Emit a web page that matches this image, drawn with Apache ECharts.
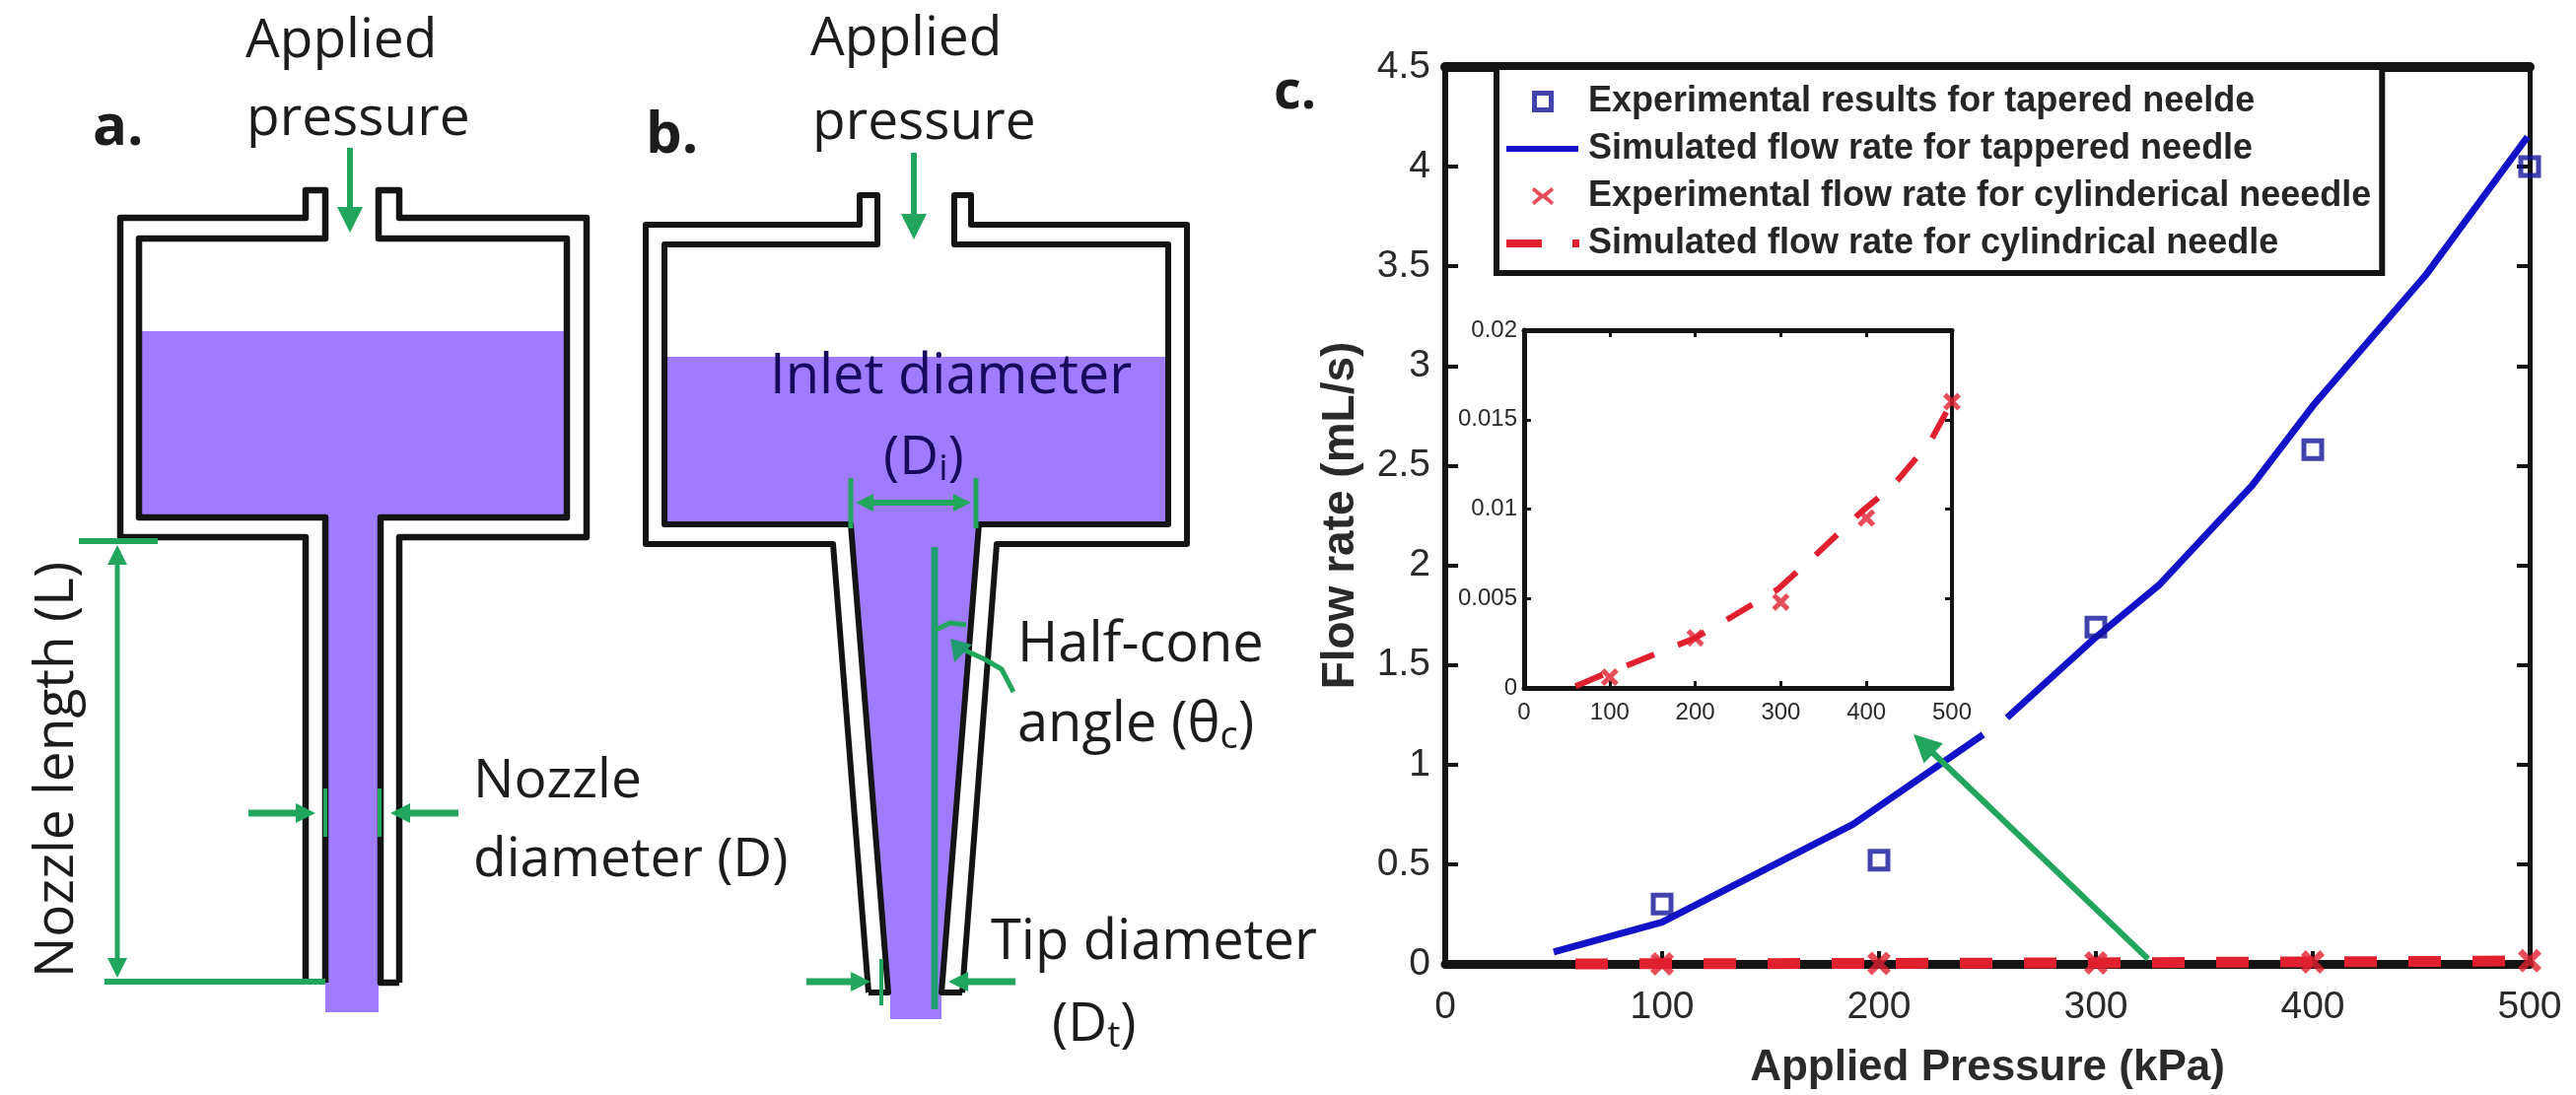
<!DOCTYPE html>
<html><head><meta charset="utf-8"><style>html,body{margin:0;background:#fff}#c{width:2613px;height:1111px}</style>
<script src="https://cdn.jsdelivr.net/npm/echarts@6/dist/echarts.min.js"></script></head>
<body><div id="c"></div>
<script>
// ---- data ----
const expPressure = [100, 200, 300, 400, 500];
const taperedExpRate = [0.30, 0.52, 1.69, 2.58, 4.00];
const taperedSimPressure = [50, 100, 188, 248, null, 259, 299, 329, 372, 400, 452, 499];
const taperedSimRate = [0.06, 0.21, 0.70, 1.15, null, 1.235, 1.63, 1.90, 2.40, 2.80, 3.455, 4.15];
const cylExpRate = [0.0006, 0.0028, 0.0048, 0.0095, 0.016];
const cylSimPressure = [60, 100, 128, 200, 240, 296, 340, 393, 431, 475, 500];
const cylSimRate = [0.0001, 0.0009, 0.0014, 0.0028, 0.0039, 0.0055, 0.0074, 0.0098, 0.0113, 0.0138, 0.016];
const nameExpTapered = 'Experimental results for tapered neelde';
const nameSimTapered = 'Simulated flow rate for tappered needle';
const nameExpCyl = 'Experimental flow rate for cylinderical neeedle';
const nameSimCyl = 'Simulated flow rate for cylindrical needle';

const BLUE = '#1212c8', NAVY = '#14149c', RED = '#e0202e', GREEN = '#22a55c', PURPLE = '#9f7cff', INK = '#141414';
const pairs = (xs, ys) => xs.map((x, i) => x === null ? [null, null] : [x, ys[i]]);
const FONT = '"Liberation Sans", Arial, sans-serif', DFONT = '"Open Sans", sans-serif';
const X_PATH = 'path://M4 0L10 6L16 0L20 4L14 10L20 16L16 20L10 14L4 20L0 16L6 10L0 4Z';
const BOX = 'M0 0L0 0ZM78 24L78 24Z';

// ---- illustration helpers (panels a and b are schematic, not data) ----
const poly = (points, color, w) => ({type:'polyline', silent:true, z:5, shape:{points}, style:{stroke:color, lineWidth:w, fill:null, lineJoin:'round'}});
const fillPoly = (points, color) => ({type:'polygon', silent:true, z:3, shape:{points}, style:{fill:color}});
function arrow(x1, y1, x2, y2, w, head, color) {
  const a = Math.atan2(y2 - y1, x2 - x1), c = Math.cos(a), s = Math.sin(a), hw = head * 0.5;
  return [poly([[x1, y1], [x2 - c * head * .8, y2 - s * head * .8]], color || GREEN, w),
    {type:'polygon', silent:true, z:6, shape:{points:[[x2, y2], [x2 - c * head - s * hw, y2 - s * head + c * hw], [x2 - c * head + s * hw, y2 - s * head - c * hw]]}, style:{fill:color || GREEN}}];
}
const txt = (text, x, y, size, opt) => Object.assign({type:'text', silent:true, z:8, x, y, style:{text, font:(opt && opt.weight || '400') + ' ' + size + 'px ' + DFONT, fill:(opt && opt.fill) || '#1c1c1c', textAlign:(opt && opt.align) || 'left', textVerticalAlign:'middle', rich:opt && opt.rich}}, opt && opt.rotation ? {rotation:opt.rotation} : {});

const subRich = (size, sub) => ({m:{font:'400 ' + size + 'px ' + DFONT, fill:sub.fill}, s:{font:'400 ' + Math.round(size * .68) + 'px ' + DFONT, fill:sub.fill, padding:[Math.round(size * .42), 0, 0, 0]}});

const illustration = [
  // panel a
  fillPoly([[141,336],[575,336],[575,525],[384,525],[384,1027],[330,1027],[330,525],[141,525]], PURPLE),
  poly([[310,997],[310,545],[122,545],[122,221],[310,221],[310,193],[330,193],[330,242],[141,242],[141,525],[330,525],[330,997]], INK, 6.5),
  poly([[405,997],[405,545],[595,545],[595,221],[405,221],[405,193],[384,193],[384,242],[575,242],[575,525],[386,525],[386,997],[405,997]], INK, 6.5),
  poly([[80,549],[160,549]], GREEN, 6),
  poly([[106,996],[330,996]], GREEN, 6),
  ...arrow(119, 700, 119, 553, 5, 20),
  ...arrow(119, 700, 119, 992, 5, 20),
  ...arrow(252, 825, 320, 825, 7, 20),
  ...arrow(465, 825, 396, 825, 7, 20),
  poly([[330,800],[330,849]], GREEN, 4), poly([[385,800],[385,849]], GREEN, 4),
  ...arrow(355, 150, 355, 236, 6, 26),
  txt('Applied', 249, 42, 55), txt('pressure', 250, 121, 55),
  txt('a.', 94, 130, 58, {weight:'700'}),
  txt('Nozzle length (L)', 58, 781, 55, {align:'center', rotation:Math.PI / 2}),
  txt('Nozzle', 480, 793, 55), txt('diameter (D)', 480, 873, 55),
  // panel b
  fillPoly([[674,362],[1185,362],[1185,532],[993,532],[955,1007],[955,1034],[903,1034],[903,1007],[863,532],[674,532]], PURPLE),
  poly([[881,1007],[845,552],[655,552],[655,228],[872,228],[872,198],[890,198],[890,248],[674,248],[674,532],[863,532],[901,1007],[881,1007]], INK, 6),
  poly([[976,1007],[1011,552],[1204,552],[1204,228],[985,228],[985,198],[968,198],[968,248],[1185,248],[1185,532],[993,532],[955,1007],[976,1007]], INK, 6),
  poly([[948,555],[948,1024]], '#1f9d6e', 7),
  poly([[863,485],[863,536]], GREEN, 5), poly([[990,485],[990,536]], GREEN, 5),
  ...arrow(925, 510, 868, 510, 6, 18), ...arrow(925, 510, 985, 510, 6, 18),
  poly([[949,639],[964,632],[980,634]], GREEN, 5),
  poly([[1028,702],[1016,679],[999,669],[975,658]], GREEN, 5),
  {type:'polygon', silent:true, z:6, shape:{points:[[964,648],[986,654],[968,672]]}, style:{fill:'#1f9d6e'}},
  ...arrow(818, 996, 883, 996, 7, 20), ...arrow(1030, 996, 962, 996, 7, 20),
  poly([[894,973],[894,1020]], GREEN, 4),
  ...arrow(927, 155, 927, 243, 6, 26),
  txt('Applied', 822, 40, 55), txt('pressure', 824, 125, 55),
  txt('b.', 655, 138, 58, {weight:'700'}),
  txt('Inlet diameter', 781, 383, 56, {fill:'#170a5c'}),
  txt('{m|(D}{s|i}{m|)}', 896, 465, 55, {rich:subRich(55, {fill:'#170a5c'})}),
  txt('Half-cone', 1032, 655, 56),
  txt('{m|angle (θ}{s|c}{m|)}', 1032, 736, 56, {rich:subRich(56, {fill:'#1c1c1c'})}),
  txt('Tip diameter', 1005, 957, 56),
  txt('{m|(D}{s|t}{m|)}', 1067, 1040, 55, {rich:subRich(55, {fill:'#1c1c1c'})}),
  txt('c.', 1292, 95, 54, {weight:'700'}),
  // arrow from the curve to the inset
  ...arrow(2179, 973, 1941, 745, 6, 28)
];

const plain = {show:false};
function frameAxes(type, grid, lo, hi, step, lineW, farW, tickLen, tickW, labelSize, labelMargin, labelPad, nameText, nameSize, nameGap) {
  const posA = type === 'x' ? 'bottom' : 'left', posB = type === 'x' ? 'top' : 'right';
  const base = {type:'value', gridIndex:grid, min:lo, max:hi, interval:step, splitLine:plain,
    axisTick:{show:true, inside:true, length:tickLen, lineStyle:{color:INK, width:tickW}}};
  const near = Object.assign({}, base, {position:posA,
    axisLine:{show:true, onZero:false, lineStyle:{color:INK, width:lineW}},
    axisLabel:{show:true, fontFamily:FONT, fontSize:labelSize, color:'#2a2a2a', margin:labelMargin, padding:labelPad, hideOverlap:false, showMinLabel:true, showMaxLabel:true}});
  if (nameText) Object.assign(near, {name:nameText, nameLocation:'middle', nameGap, nameTextStyle:{fontFamily:FONT, fontSize:nameSize, fontWeight:'bold', color:'#2a2a2a'}});
  const far = Object.assign({}, base, {position:posB, axisLabel:plain,
    axisLine:{show:true, onZero:false, lineStyle:{color:INK, width:farW}}});
  return [near, far];
}

const option = {
  animation:false, backgroundColor:'#fff',
  grid:[
    {left:1466, top:68, width:1100, height:912},
    {left:1546, top:335, width:434, height:363, z:3}
  ],
  xAxis:[
    ...frameAxes('x', 0, 0, 500, 100, 9, 10, 13, 4, 39, 25, 0, 'Applied Pressure (kPa)', 44, 84),
    ...frameAxes('x', 1, 0, 500, 100, 5, 5, 7, 3, 24, 13, 0)
  ],
  yAxis:[
    ...frameAxes('y', 0, 0, 4.5, 0.5, 6, 5, 13, 4, 39, 15, [8,0,0,0], 'Flow rate (mL/s)', 46, 83),
    ...frameAxes('y', 1, 0, 0.02, 0.005, 5, 4, 7, 3, 24, 7, [4,0,0,0])
  ],
  legend:{
    orient:'vertical', left:1518, top:68, z:10, selectedMode:false,
    backgroundColor:'#fff', borderColor:INK, borderWidth:6, padding:[17,11,12,10],
    itemWidth:78, itemHeight:24, itemGap:12,
    textStyle:{fontFamily:FONT, fontSize:36, fontWeight:'bold', color:'#262626'},
    data:[
      {name:nameExpTapered, icon:'path://' + BOX + 'M26 1H48V23H26ZM31 6V18H43V6Z', itemStyle:{color:NAVY, borderWidth:0}},
      {name:nameSimTapered, icon:'path://' + BOX + 'M0 9H73V15H0Z', itemStyle:{color:BLUE, borderWidth:0}},
      {name:nameExpCyl, icon:'path://' + BOX + 'M28 3L37 10L46 3L48 6L41 12L48 18L46 21L37 14L28 21L26 18L33 12L26 6L28 3Z', itemStyle:{color:RED, borderWidth:0}},
      {name:nameSimCyl, icon:'path://' + BOX + 'M0 8H36V16H0ZM67 8H74V16H67Z', itemStyle:{color:RED, borderWidth:0}}
    ]
  },
  series:[
    {name:nameSimTapered, type:'line', xAxisIndex:0, yAxisIndex:0, symbol:'none', connectNulls:false, clip:false, z:4,
      lineStyle:{color:BLUE, width:7, join:'round'}, itemStyle:{color:BLUE}, data:pairs(taperedSimPressure, taperedSimRate)},
    {name:nameExpTapered, type:'scatter', xAxisIndex:0, yAxisIndex:0, symbol:'rect', symbolSize:18, clip:false, z:5,
      itemStyle:{color:'rgba(255,255,255,0)', borderColor:NAVY, borderWidth:5}, data:pairs(expPressure, taperedExpRate)},
    {name:nameSimCyl, type:'line', xAxisIndex:0, yAxisIndex:0, symbol:'none', clip:false, z:6,
      lineStyle:{color:RED, width:11, type:[33,32]}, itemStyle:{color:RED}, data:pairs(cylSimPressure, cylSimRate)},
    {name:nameExpCyl, type:'scatter', xAxisIndex:0, yAxisIndex:0, symbol:X_PATH, symbolSize:24, clip:false, z:7,
      itemStyle:{color:RED}, data:pairs(expPressure, cylExpRate)},
    {name:nameSimCyl + ' (inset)', type:'line', xAxisIndex:2, yAxisIndex:2, symbol:'none', clip:false, z:6,
      lineStyle:{color:RED, width:6, type:[30,26]}, itemStyle:{color:RED}, data:pairs(cylSimPressure, cylSimRate)},
    {name:nameExpCyl + ' (inset)', type:'scatter', xAxisIndex:2, yAxisIndex:2, symbol:X_PATH, symbolSize:18, clip:false, z:7,
      itemStyle:{color:RED}, data:pairs(expPressure, cylExpRate)}
  ],
  graphic:illustration
};
echarts.init(document.getElementById('c')).setOption(option);
</script></body></html>
